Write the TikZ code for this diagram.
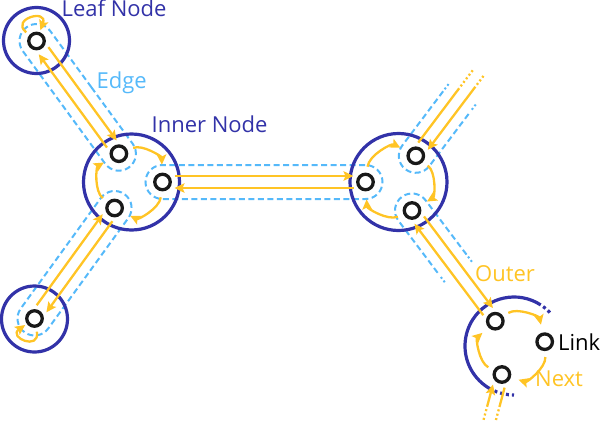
\documentclass[tikz,border=0pt]{standalone}
\usepackage{fontspec}
\setmainfont{Open Sans}
\usetikzlibrary{arrows.meta,calc,shapes.misc}
\definecolor{nodeblue}{HTML}{3232A8}
\definecolor{edgeblue}{HTML}{55B9FA}
\definecolor{linkgold}{HTML}{FFC425}
\tikzset{
  vtx/.style  ={circle,draw=black!90,line width=3.3pt,minimum size=15.5pt,inner sep=0pt},
  hnode/.style={circle,draw=nodeblue,line width=3.2pt,inner sep=0pt},
  band/.style ={draw=edgeblue,line width=2pt,dash pattern=on 6pt off 3.5pt},
  fade/.style ={dash pattern=on 2pt off 2.5pt,dash phase=2pt},
  half/.style ={draw=linkgold,line width=2.3pt,-{Stealth[length=10pt,width=9.5pt,inset=2pt]}},
  next/.style ={half,shorten <=6pt,shorten >=8pt},
  lbl/.style  ={anchor=base west,inner sep=0pt,font=\fontsize{22}{26}\selectfont}
}
\newcommand{\fullband}[2]{%
  \path let \p1=($(#2)-(#1)$), \n1={atan2(\y1,\x1)}, \n2={veclen(\x1,\y1)} in
    node[band,rounded rectangle,rotate=\n1,minimum width=\n2+34pt,minimum height=34pt,inner sep=0pt]
    at ($(#1)!.5!(#2)$) {};}
\newcommand{\openband}[2]{%
  \begin{scope}[shift={(#1)},rotate=#2]
    \draw[band] (68,17) -- (0,17) arc[start angle=90,end angle=270,radius=17] -- (68,-17);
    \draw[band,fade] (68,17) -- (78,17) (68,-17) -- (78,-17);
  \end{scope}}
\newcommand{\halfedge}[2]{\draw[half] ($(#1)!12pt!(#2)!6pt!90:(#2)$) -- ($(#2)!12pt!(#1)!6pt!-90:(#1)$);}
\newcommand{\outhalf}[4]{%
  \draw[half,-] ($(#1)!12pt!(#2)!6pt!90:(#2)$) -- ($(#1)!#3!(#2)!6pt!90:(#2)$);
  \draw[half,-,fade] ($(#1)!#3!(#2)!6pt!90:(#2)$) -- ($(#1)!#4!(#2)!6pt!90:(#2)$);}
\newcommand{\inhalf}[4]{%
  \draw[half] ($(#1)!#3!(#2)!6pt!-90:(#2)$) -- ($(#1)!12pt!(#2)!6pt!-90:(#2)$);
  \draw[half,-,fade] ($(#1)!#3!(#2)!6pt!-90:(#2)$) -- ($(#1)!#4!(#2)!6pt!-90:(#2)$);}
\begin{document}
\begin{tikzpicture}[x=1pt,y=1pt]
  \useasboundingbox (0,0) rectangle (601,424);
  \node[vtx] (ta) at ( 36.5,383.0) {};
  \node[vtx] (ba) at ( 34.5,105.5) {};
  \node[vtx] (la) at (118.9,270.3) {};
  \node[vtx] (lb) at (162.5,242.0) {};
  \node[vtx] (lc) at (114.6,216.0) {};
  \node[vtx] (ra) at (365.5,242.0) {};
  \node[vtx] (rb) at (415.8,268.2) {};
  \node[vtx] (rc) at (412.0,213.5) {};
  \node[vtx] (pa) at (495.3,102.8) {};
  \node[vtx] (pb) at (544.7, 82.3) {};
  \node[vtx] (pc) at (501.9, 49.5) {};
  \coordinate (P)  at (514,78);
  \coordinate (ne) at ($(rb)+(53:110)$);
  \coordinate (sw) at ($(pc)+(-105:60)$);

  \fullband{ta}{la}
  \fullband{lc}{ba}
  \fullband{lb}{ra}
  \openband{rb}{53}
  \openband{rc}{-53}

  \node[hnode,minimum size=66pt] (leafa)  at ( 36.5,383.5) {};
  \node[hnode,minimum size=66pt] (leafb)  at ( 34.5,105.0) {};
  \node[hnode,minimum size=96pt] (innerl) at (131.5,242.0) {};
  \node[hnode,minimum size=97pt] (innerr) at (398.5,242.0) {};
  \draw[nodeblue,line width=3.2pt] ($(P)+(57:49)$) arc[start angle=57,end angle=243,radius=49];
  \draw[nodeblue,line width=3.2pt,dash pattern=on 3pt off 3pt,dash phase=3pt]
    ($(P)+(57:49)$) arc[start angle=57,end angle=40,radius=49]
    ($(P)+(243:49)$) arc[start angle=243,end angle=270,radius=49];

  \halfedge{ta}{la}  \halfedge{la}{ta}
  \halfedge{lc}{ba}  \halfedge{ba}{lc}
  \halfedge{lb}{ra}  \halfedge{ra}{lb}
  \halfedge{rc}{pa}  \halfedge{pa}{rc}
  \outhalf{rb}{ne}{80pt}{104pt}  \inhalf{rb}{ne}{91pt}{105pt}
  \outhalf{pc}{sw}{32pt}{47pt}   \inhalf{pc}{sw}{35pt}{49pt}

  \draw[next] (la) to[bend left=55] (lb);
  \draw[next] (lb) to[bend left=55] (lc);
  \draw[next] (lc) to[bend left=55] (la);
  \draw[next] (ra) to[bend left=55] (rb);
  \draw[next] (rb) to[bend left=55] (rc);
  \draw[next] (rc) to[bend left=55] (ra);
  \draw[next] (pa) to[bend left=55] (pb);
  \draw[next] (pb) to[bend left=55] (pc);
  \draw[next] (pc) to[bend left=55] (pa);
  \draw[half,shorten <=4pt,shorten >=2pt] (ta) to[out=140,in=70,looseness=6,min distance=21pt] (ta);
  \draw[half,shorten <=4pt,shorten >=2pt] (ba) to[out=-80,in=215,looseness=6,min distance=21pt] (ba);

  \node[lbl,text=nodeblue] (tleaf)  at ( 61.5,407.0) {Leaf Node};
  \node[lbl,text=edgeblue] (tedge)  at ( 96.5,336.0) {Edge};
  \node[lbl,text=nodeblue] (tinner) at (151.5,292.0) {Inner Node};
  \node[lbl,text=linkgold] (touter) at (475.0,142.3) {Outer};
  \node[lbl]               (tlink)  at (558.0, 74.0) {Link};
  \node[lbl,text=linkgold] (tnext)  at (535.0, 37.3) {Next};
\end{tikzpicture}
\end{document}
